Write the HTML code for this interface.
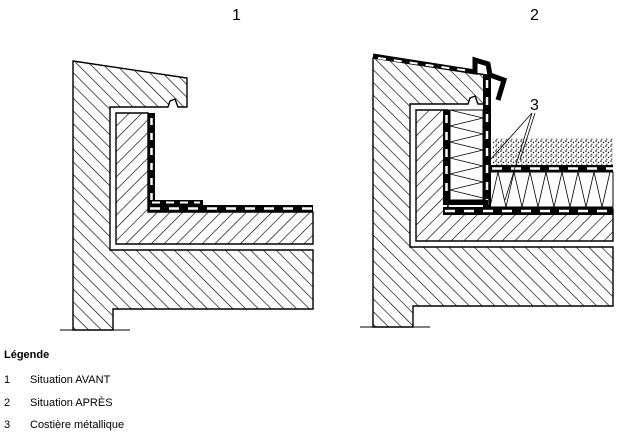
<!DOCTYPE html>
<html><head><meta charset="utf-8"><style>
body{margin:0;background:#fff;width:618px;height:433px;overflow:hidden;font-family:"Liberation Sans",sans-serif}
.t{position:absolute;font-size:11px;color:#000}
</style></head><body>
<svg width="618" height="433" style="position:absolute;left:0;top:0">
<defs>
<pattern id="h" width="9" height="9" patternUnits="userSpaceOnUse" patternTransform="rotate(45)">
<line x1="0" y1="0" x2="0" y2="9" stroke="#000" stroke-width="1.3"/></pattern>
<pattern id="h2" width="9" height="9" patternUnits="userSpaceOnUse" patternTransform="rotate(-45)">
<line x1="0" y1="0" x2="0" y2="9" stroke="#000" stroke-width="1.3"/></pattern>
<pattern id="g" width="5" height="5" patternUnits="userSpaceOnUse">
<circle cx="1" cy="1" r="0.8" fill="#000"/><circle cx="3.5" cy="2.5" r="0.7" fill="#000"/><circle cx="1.8" cy="4.2" r="0.6" fill="#000"/></pattern>
<g id="base" stroke="#000" stroke-width="1.4">
<path d="M73,61 L187,78 L187,107 L178,107 L175,99 L170,101 L168,107 L110,107 L110,250 L313,250 L313,309 L113,309 L113,330 L73,330 Z" fill="url(#h2)"/>
<path d="M116,113 L148,113 L148,212 L313,212 L313,244 L116,244 Z" fill="url(#h)"/>
</g>
</defs>
<text x="232" y="20" font-family="Liberation Sans" font-size="16">1</text>
<text x="530" y="20" font-family="Liberation Sans" font-size="16">2</text>
<use href="#base"/>
<rect x="148" y="113" width="7" height="90" fill="#000"/>
<line x1="151.5" y1="118" x2="151.5" y2="200" stroke="#fff" stroke-width="2.5" stroke-dasharray="7,8"/>
<rect x="148" y="200" width="55" height="6" fill="#000"/>
<rect x="148" y="205" width="165" height="7" fill="#000"/>
<line x1="150" y1="208.5" x2="313" y2="208.5" stroke="#fff" stroke-width="2.5" stroke-dasharray="10,9"/>
<line x1="152" y1="202.5" x2="200" y2="202.5" stroke="#fff" stroke-width="2" stroke-dasharray="8,6"/>
<line x1="60" y1="330" x2="130" y2="330" stroke="#000" stroke-width="1"/>
<g transform="translate(300,-3)"><use href="#base"/></g>
<rect x="450" y="110" width="33" height="90" fill="#fff" stroke="#000"/>
<path d="M450,110 l33,8 -33,8 33,8 -33,8 33,8 -33,8 33,8 -33,8 33,8 -33,8 33,8" fill="none" stroke="#000" stroke-width="0.8"/>
<rect x="493" y="138" width="120" height="27" fill="url(#g)"/>
<rect x="490" y="172" width="123" height="35" fill="#fff" stroke="#000"/>
<path d="M490,207 l8,-35 8,35 8,-35 8,35 8,-35 8,35 8,-35 8,35 8,-35 8,35 8,-35 8,35 8,-35 8,35 8,-35" fill="none" stroke="#000" stroke-width="0.8"/>
<path d="M373,56 L475,72 L475,60 L488,64 L490,75 L504,80 L498,100" fill="none" stroke="#000" stroke-width="5"/>
<rect x="483" y="75" width="8" height="135" fill="#000"/>
<line x1="487" y1="80" x2="487" y2="205" stroke="#fff" stroke-width="2.5" stroke-dasharray="8,9"/>
<rect x="443" y="110" width="7" height="95" fill="#000"/>
<line x1="446.5" y1="115" x2="446.5" y2="200" stroke="#fff" stroke-width="2.5" stroke-dasharray="8,9"/>
<rect x="443" y="200" width="45" height="5" fill="#000"/>
<rect x="490" y="165" width="123" height="7" fill="#000"/>
<line x1="492" y1="168.5" x2="613" y2="168.5" stroke="#fff" stroke-width="2.5" stroke-dasharray="10,9"/>
<rect x="443" y="207" width="170" height="8" fill="#000"/>
<line x1="445" y1="211" x2="613" y2="211" stroke="#fff" stroke-width="2.5" stroke-dasharray="10,9"/>
<line x1="378" y1="58" x2="470" y2="71" stroke="#fff" stroke-width="2" stroke-dasharray="8,8"/>
<text x="530" y="110" font-family="Liberation Sans" font-size="16">3</text>
<path d="M532,113 L490,160 M535,113 L520,160 M532,113 L505,200" stroke="#000" stroke-width="0.8" fill="none"/>
<line x1="360" y1="327" x2="430" y2="327" stroke="#000" stroke-width="1"/>
</svg>
<div class="t" style="left:4px;top:349px;font-weight:bold">Légende</div>
<div class="t" style="left:4px;top:374px">1</div><div class="t" style="left:30px;top:374px">Situation AVANT</div>
<div class="t" style="left:4px;top:397px">2</div><div class="t" style="left:30px;top:397px">Situation APRÈS</div>
<div class="t" style="left:4px;top:419px">3</div><div class="t" style="left:30px;top:419px">Costière métallique</div>
</body></html>
